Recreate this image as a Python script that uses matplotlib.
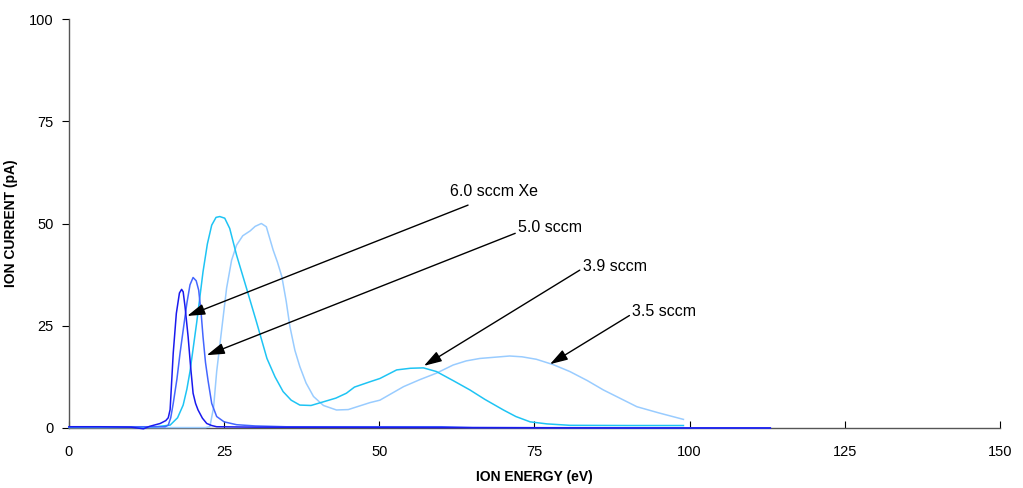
import matplotlib
matplotlib.use("Agg")
import matplotlib.pyplot as plt

plt.rcParams['font.family'] = ['Liberation Sans', 'DejaVu Sans']

# Ion energy distributions for four xenon flow rates
energy_60 = [0, 5, 10, 12, 13, 14.7, 15.6, 16.0, 16.3, 16.5, 16.8, 17.3, 17.8, 18.15, 18.4, 18.7,
             19.2, 19.6, 20.0, 20.4, 20.8, 21.5, 22.2, 23.0, 23.8, 30, 60, 90, 113]
current_60 = [0.3, 0.3, 0.2, -0.2, 0.4, 1.1, 1.8, 2.5, 4.5, 10, 18.3, 28, 33, 33.9, 33.3, 29.7,
              22.3, 15, 8.5, 6.0, 4.4, 2.4, 1.1, 0.6, 0.3, 0.2, 0.1, 0.0, 0.0]

energy_50 = [0, 10, 14, 15.5, 16, 16.4, 16.8, 17.4, 17.9, 18.5, 19.0, 19.5, 20.0, 20.5, 20.9, 21.3,
             21.6, 22.0, 22.4, 23.0, 23.8, 25, 27, 30, 35, 45, 60, 65, 113]
current_50 = [0.3, 0.3, 0.3, 0.3, 0.7, 2.5, 6, 12, 18.3, 25, 30.5, 35, 36.8, 36, 33.7, 28,
              22.3, 16, 11.7, 6, 2.8, 1.5, 0.8, 0.5, 0.3, 0.3, 0.3, 0.1, 0.0]

energy_39 = [0, 10, 14, 16.3, 17.5, 18.4, 19.0, 19.5, 20.6, 21.6, 22.3, 23.0, 23.7, 24.3, 25.1, 25.9,
             27.0, 28.6, 30.2, 31.9, 33.2, 34.5, 35.8, 37.2, 39, 41, 43, 44.7, 46, 48.5, 50.1,
             52.8, 55, 57.1, 59.2, 62, 64.6, 67, 70, 72, 74.3, 77, 80.7, 90, 99]
current_39 = [0.2, 0.2, 0.3, 0.7, 2.5, 5.6, 9.5, 13.8, 26, 38.2, 45, 49.6, 51.5, 51.7, 51.3, 48.8,
              42.3, 34.2, 26, 17, 12.5, 8.9, 6.8, 5.6, 5.5, 6.4, 7.3, 8.5, 10, 11.3, 12.1,
              14.2, 14.6, 14.7, 13.8, 11.5, 9.3, 7, 4.4, 2.8, 1.5, 1.0, 0.65, 0.6, 0.6]

energy_35 = [0, 15, 22.0, 22.7, 23.3, 23.8, 24.6, 25.4, 26.2, 27.0, 28.0, 28.6, 29.2, 30.0, 31.0,
             31.8, 32.9, 33.6, 34.3, 35.0, 35.6, 36.4, 37.2, 38.2, 39.4, 41, 43.1, 45, 48.5,
             50.1, 53.9, 56.5, 59.2, 61.9, 64, 66.2, 71, 73, 75.3, 78, 80.7, 83.5, 86.1, 91.5,
             95, 99]
current_35 = [0.1, 0.1, 0.1, 0.3, 5, 13.8, 24, 34.2, 41, 44.7, 47, 47.6, 48.2, 49.3, 50,
              49.2, 43.5, 40.5, 37, 31, 24.8, 19, 15, 11, 7.7, 5.5, 4.4, 4.5, 6.2,
              6.8, 10.1, 11.8, 13.4, 15.4, 16.4, 17, 17.6, 17.4, 16.8, 15.5, 13.8, 11.6, 9.3, 5.2,
              3.7, 2.1]

labels = ["6.0 sccm Xe", "5.0 sccm", "3.9 sccm", "3.5 sccm"]
label_pos = [(61.4, 57.9), (72.3, 49.1), (82.8, 39.6), (90.7, 28.6)]
arrow_start = [(64.3, 54.5), (71.9, 47.6), (82.3, 38.6), (90.3, 27.5)]
arrow_tip = [(19.06, 27.4), (22.2, 17.8), (57.2, 15.2), (77.5, 15.6)]

x_ticks = [0, 25, 50, 75, 100, 125, 150]
y_ticks = [0, 25, 50, 75, 100]

fig = plt.figure(figsize=(10.23, 4.88), dpi=100)
ax = fig.add_axes([0.0674, 0.123, 0.9101, 0.838])

ax.plot(energy_35, current_35, color='#99ccff', lw=1.1, clip_on=False, zorder=3)
ax.plot(energy_39, current_39, color='#1ec4f4', lw=1.1, clip_on=False, zorder=4)
ax.plot(energy_50, current_50, color='#4466ff', lw=1.1, clip_on=False, zorder=5)
ax.plot(energy_60, current_60, color='#1a1aee', lw=1.1, clip_on=False, zorder=6)

for text, tp, st, tip in zip(labels, label_pos, arrow_start, arrow_tip):
    ax.text(tp[0], tp[1], text, fontsize=11.5, ha='left', va='center', color='black')
    ax.annotate('', xy=tip, xytext=st,
                arrowprops=dict(arrowstyle='-|>,head_length=0.9,head_width=0.28',
                                mutation_scale=12, color='black', lw=1.0,
                                shrinkA=0, shrinkB=0),
                zorder=8)

ax.set_xlim(0, 150)
ax.set_ylim(0, 100)
ax.set_xticks(x_ticks)
ax.set_yticks(y_ticks)
ax.tick_params(axis='x', direction='in', length=5, labelsize=10.5, pad=12, color='black')
ax.tick_params(axis='y', direction='out', length=5, labelsize=10.5, pad=6, color='black')

for side in ('top', 'right'):
    ax.spines[side].set_visible(False)
for side in ('left', 'bottom'):
    ax.spines[side].set_color('#555555')
    ax.spines[side].set_linewidth(1.0)

ax.set_xlabel('ION ENERGY (eV)', fontsize=10, fontweight='bold')
ax.set_ylabel('ION CURRENT (pA)', fontsize=10, fontweight='bold')
ax.yaxis.set_label_coords(-0.055, 0.5)
ax.xaxis.set_label_coords(0.5, -0.103)

fig.savefig('out.png', dpi=100)
